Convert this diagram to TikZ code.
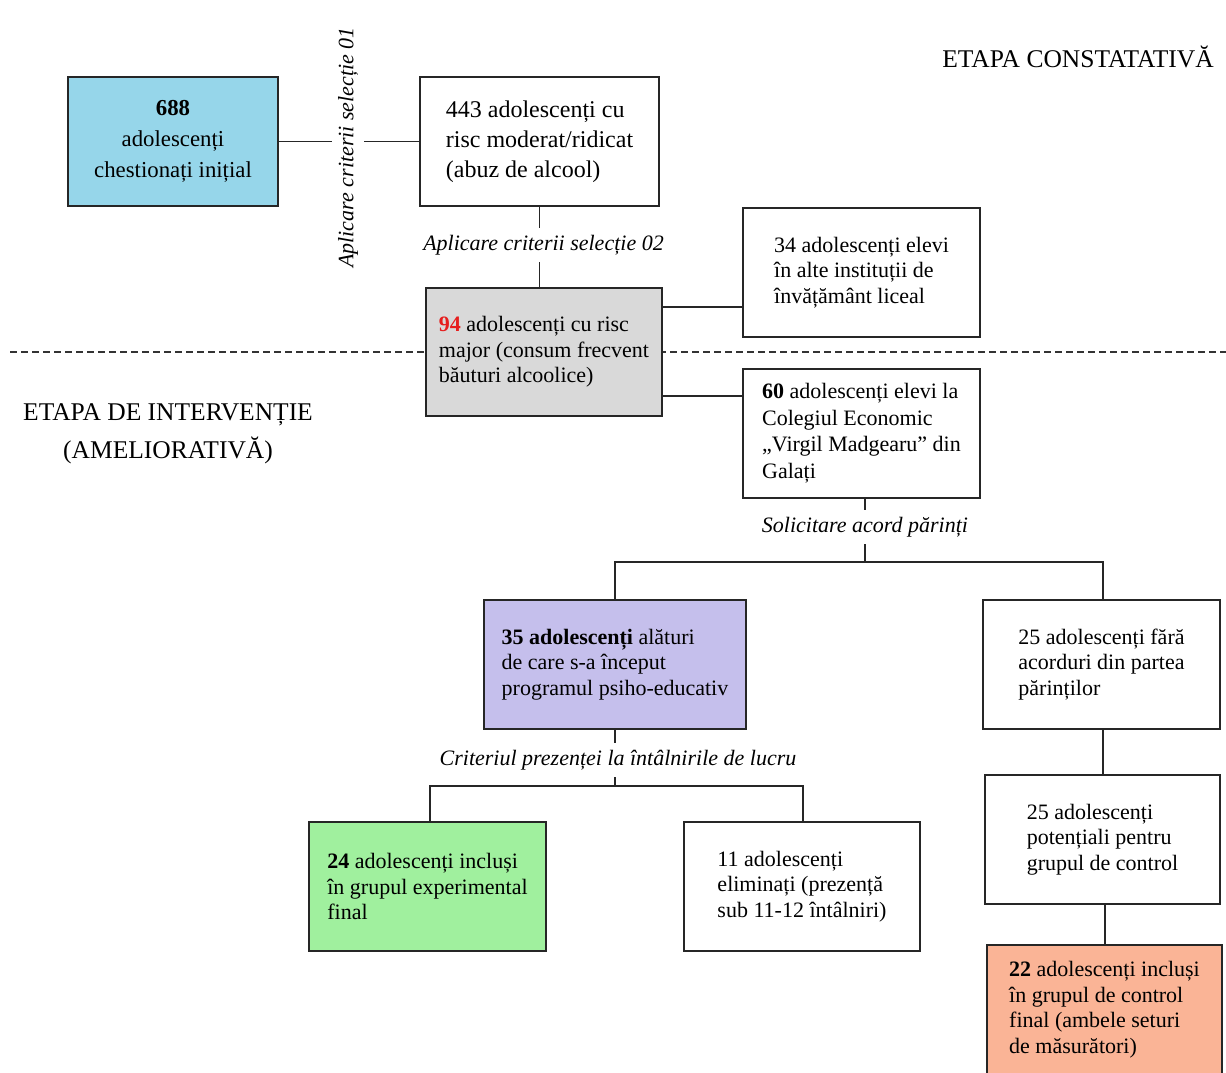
\documentclass[tikz,border=0pt]{standalone}
\usepackage{fontspec}
\setmainfont{Liberation Serif}
\usetikzlibrary{calc}
\definecolor{boxblue}{RGB}{150,214,234}
\definecolor{boxgray}{RGB}{217,217,217}
\definecolor{boxpurple}{RGB}{197,191,236}
\definecolor{boxgreen}{RGB}{160,240,158}
\definecolor{boxorange}{RGB}{250,180,150}
\definecolor{numred}{RGB}{230,30,30}
\begin{document}
\begin{tikzpicture}[x=1pt,y=-1pt,
  stagebox/.style={draw=black!85, line width=2pt, fill=white,
    minimum height=129pt, align=left, inner sep=0pt,
    font=\fontsize{22}{25.5}\selectfont},
  link/.style={draw=black!85, line width=1.8pt},
  crit/.style={fill=white, inner xsep=2pt, inner ysep=7pt,
    font=\fontsize{22}{26}\selectfont\itshape},
  stage/.style={font=\fontsize{25.5}{38}\selectfont, align=center}]
\useasboundingbox (0,0) rectangle (1226,1072);

% boundary between the two stages
\coordinate (dl) at (10,352);
\coordinate (dr) at (1226,352);
\draw[draw=black!80, line width=1.8pt, dash pattern=on 7pt off 4pt] (dl) -- (dr);

% stage titles
\node[stage] (etc) at (1078,57) {ETAPA CONSTATATIVĂ};
\node[stage] (eti) at (168,434) {ETAPA DE INTERVENȚIE\\(AMELIORATIVĂ)};

% boxes
\node[stagebox, fill=boxblue, minimum width=210pt, align=center,
  font=\fontsize{22.8}{31}\selectfont] (n688) at (173,141.5)
  {\textbf{688}\\adolescenți\\chestionați inițial};
\node[stagebox, minimum width=239pt, font=\fontsize{24}{30}\selectfont] (n443) at (539.5,141.5)
  {443 adolescenți cu\\risc moderat/ridicat\\(abuz de alcool)};
\node[stagebox, minimum width=237pt] (n34) at (861.5,272.5)
  {34 adolescenți elevi\\în alte instituții de\\învățământ liceal};
\node[stagebox, fill=boxgray, minimum width=236pt, minimum height=128pt] (n94) at (544,352)
  {\textcolor{numred}{\textbf{94}} adolescenți cu risc\\major (consum frecvent\\băuturi alcoolice)};
\node[stagebox, minimum width=237pt, font=\fontsize{22}{26.5}\selectfont] (n60) at (861.5,433)
  {\textbf{60} adolescenți elevi la\\Colegiul Economic\\„Virgil Madgearu” din\\Galați};
\node[stagebox, fill=boxpurple, minimum width=262pt] (n35) at (615,664.5)
  {\textbf{35 adolescenți} alături\\de care s-a început\\programul psiho-educativ};
\node[stagebox, minimum width=237pt] (n25a) at (1101.5,664.5)
  {25 adolescenți fără\\acorduri din partea\\părinților};
\node[stagebox, minimum width=235pt] (n25b) at (1102.5,839.5)
  {25 adolescenți\\potențiali pentru\\grupul de control};
\node[stagebox, fill=boxorange, minimum width=235pt] (n22) at (1104.5,1009.5)
  {\textbf{22} adolescenți incluși\\în grupul de control\\final (ambele seturi\\de măsurători)};
\node[stagebox, fill=boxgreen, minimum width=237pt] (n24) at (427.5,886.5)
  {\textbf{24} adolescenți incluși\\în grupul experimental\\final};
\node[stagebox, minimum width=236pt] (n11) at (802,886.5)
  {11 adolescenți\\eliminați (prezență\\sub 11-12 întâlniri)};

% connectors
\coordinate (jA) at (865,562);
\coordinate (jB) at (615,786);
\draw[link] (n688.east) -- (n443.west);
\draw[link] (n443.south) -- (n443.south |- n94.north);
\draw[link] ($(n94.north east)+(0,20)$) coordinate (a) -- (a -| n34.west);
\draw[link] ($(n60.north west)+(0,28.5)$) coordinate (b) -- (b -| n94.east);
\draw[link] (n60.south -| jA) -- (jA);
\draw[link] (n35.north) |- (jA) -| ($(n25a.north)+(1.5,0)$);
\draw[link] ($(n25a.south)+(1.5,0)$) -- ($(n25b.north)+(0.5,0)$);
\draw[link] ($(n25b.south)+(2.5,0)$) -- ($(n22.north)+(0.5,0)$);
\draw[link] (n35.south) -- (jB);
\draw[link] ($(n24.north)+(2.5,0)$) |- (jB) -| ($(n11.north)+(1,0)$);

% selection criteria
\node[crit, rotate=90, inner xsep=7pt, inner ysep=6pt] (sel01) at (348,147.5) {Aplicare criterii selecție 01};
\node[crit] (sel02) at (543.5,245) {Aplicare criterii selecție 02};
\node[crit] (sol) at (865,527) {Solicitare acord părinți};
\node[crit] (crt) at (618,760) {Criteriul prezenței la întâlnirile de lucru};
\end{tikzpicture}
\end{document}
